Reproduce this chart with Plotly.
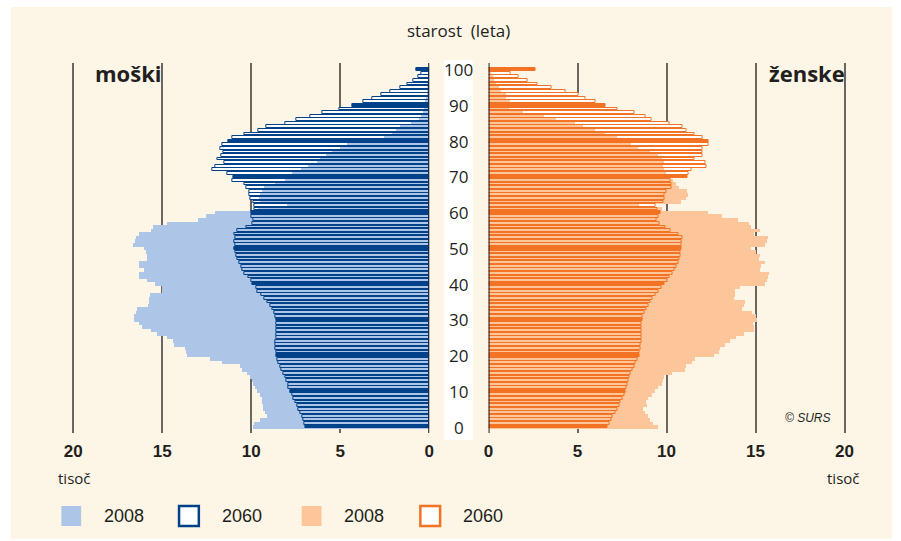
import plotly.graph_objects as go

# starost (leta) 0..100
starost = list(range(101))

# tisoč prebivalcev
moski_2008 = [
    9.9, 9.8, 9.5, 9.1, 9.2, 9.3, 9.3, 9.35, 9.4, 9.5,
    9.65, 9.75, 9.9, 9.95, 10.05, 10.2, 10.5, 10.6, 11.6, 12.3,
    13.6, 13.65, 13.7, 14.3, 14.4, 14.7, 15.3, 15.6, 16.1, 16.3,
    16.55, 16.55, 16.45, 16.4, 15.8, 15.75, 15.7, 15.65, 15.0, 15.0,
    15.4, 15.85, 16.3, 16.3, 16.0, 16.3, 16.3, 15.85, 15.85, 15.9,
    16.0, 16.6, 16.5, 16.45, 16.3, 15.6, 15.5, 14.7, 13.0, 12.5,
    12.0, 9.6, 8.0, 9.5, 9.55, 9.5, 9.4, 9.28, 8.63, 8.07,
    7.9, 7.7, 7.2, 6.8, 6.3, 6.1, 5.76, 5.43, 5.0, 4.6,
    3.1, 2.5, 2.1, 1.87, 1.6, 1.0, 0.56, 0.45, 0.33, 0.28,
    0.24, 0.2, 0.16, 0.13, 0.1, 0.08, 0.06, 0.04, 0.03, 0.02,
    0.02,
]
moski_2060 = [
    6.96, 7.04, 7.09, 7.15, 7.24, 7.33, 7.43, 7.52, 7.61, 7.7,
    7.8, 7.89, 7.94, 8.04, 8.11, 8.2, 8.3, 8.39, 8.48, 8.54,
    8.59, 8.61, 8.63, 8.63, 8.63, 8.61, 8.6, 8.57, 8.57, 8.57,
    8.59, 8.67, 8.72, 8.81, 8.94, 9.09, 9.28, 9.46, 9.63, 9.74,
    9.93, 10.02, 10.15, 10.37, 10.48, 10.57, 10.67, 10.76, 10.81, 10.89,
    10.93, 10.91, 10.93, 10.91, 10.96, 10.76, 10.28, 9.93, 9.9, 10.0,
    9.98, 9.8, 9.85, 9.89, 10.04, 10.13, 10.11, 10.26, 10.37, 11.04,
    10.98, 11.35, 12.17, 12.04, 11.5, 11.91, 11.7, 11.56, 11.76, 11.65,
    11.26, 11.04, 10.41, 9.59, 9.13, 8.09, 7.44, 6.7, 6.02, 5.07,
    4.3, 3.72, 3.19, 2.67, 2.19, 1.63, 1.22, 0.91, 0.63, 0.44,
    0.7,
]
zenske_2008 = [
    9.5, 9.2, 9.07, 8.93, 8.75, 8.65, 8.85, 8.83, 8.95, 9.15,
    9.3, 9.48, 9.7, 9.8, 9.85, 10.3, 11.0, 11.06, 11.4, 11.6,
    12.63, 12.9, 13.0, 13.28, 13.56, 13.9, 14.3, 14.9, 14.9, 14.85,
    15.04, 15.0, 14.8, 14.2, 14.3, 14.39, 13.74, 13.8, 13.83, 14.1,
    15.5, 15.6, 15.7, 15.75, 15.2, 15.3, 15.5, 15.15, 15.2, 15.0,
    14.7, 15.5, 15.6, 15.7, 14.9, 15.2, 14.7, 14.6, 14.0, 13.1,
    12.3, 9.7, 8.43, 10.8, 11.05, 11.2, 11.1, 10.7, 10.5, 10.35,
    10.1, 9.95, 9.85, 9.75, 9.85, 9.7, 9.48, 9.07, 8.37, 8.0,
    7.6, 7.17, 6.5, 5.93, 5.26, 4.85, 3.74, 3.1, 1.9, 1.15,
    1.3, 1.2, 0.95, 0.93, 0.7, 0.55, 0.42, 0.3, 0.2, 0.12,
    0.08,
]
zenske_2060 = [
    6.7, 6.8, 6.89, 6.98, 7.11, 7.22, 7.35, 7.44, 7.54, 7.63,
    7.72, 7.76, 7.81, 7.89, 7.94, 8.0, 8.09, 8.19, 8.28, 8.37,
    8.46, 8.5, 8.54, 8.56, 8.57, 8.57, 8.57, 8.59, 8.59, 8.61,
    8.65, 8.67, 8.74, 8.87, 8.98, 9.11, 9.24, 9.39, 9.57, 9.72,
    9.91, 10.04, 10.19, 10.31, 10.44, 10.56, 10.65, 10.72, 10.78, 10.81,
    10.85, 10.85, 10.83, 10.9, 10.7, 10.2, 9.97, 9.6, 9.45, 9.57,
    9.65, 9.5, 9.36, 9.83, 9.87, 9.9, 10.0, 10.27, 10.28, 10.25,
    11.19, 11.22, 11.43, 12.26, 12.17, 11.56, 12.0, 12.02, 12.05, 12.35,
    12.35, 12.02, 11.56, 11.11, 10.9, 10.19, 9.15, 8.83, 8.22, 7.26,
    6.56, 6.0, 5.44, 5.04, 4.3, 3.56, 2.76, 2.17, 1.67, 1.24,
    2.63,
]
tick_vals = [0, 5, 10, 15, 20]
starost_oznake = list(range(0, 101, 10))

W, H = 901, 541
krem = '#fdf5e6'
svetlo_modra = '#adc5e6'
temno_modra = '#00428a'
svetlo_oranzna = '#fcc59a'
oranzna = '#f47224'
mreza = '#6d6561'
besedilo = '#231f20'
ozka = 'Liberation Sans Narrow, Arial Narrow, sans-serif'


def px(x):
    return x / W


def py(y):
    return 1 - y / H


fig = go.Figure()


def dodaj_spol(v2008, v2060, svetla, temna, xos):
    # bela podlaga za 2060, nato 2008, nato obroba 2060
    fig.add_trace(go.Bar(
        y=starost, x=v2060, orientation='h', xaxis=xos, yaxis='y',
        width=0.78, marker=dict(color='white', line=dict(width=0)),
        hoverinfo='skip', showlegend=False
    ))
    fig.add_trace(go.Bar(
        y=starost, x=v2008, orientation='h', xaxis=xos, yaxis='y',
        width=1.0, marker=dict(color=svetla, line=dict(width=0)),
        hoverinfo='skip', showlegend=False
    ))
    barve = [temna if a % 10 == 0 else 'rgba(0,0,0,0)' for a in starost]
    fig.add_trace(go.Bar(
        y=starost, x=v2060, orientation='h', xaxis=xos, yaxis='y',
        width=0.78, marker=dict(color=barve, line=dict(color=temna, width=1)),
        hoverinfo='skip', showlegend=False
    ))


dodaj_spol(moski_2008, moski_2060, svetlo_modra, temno_modra, 'x')
dodaj_spol(zenske_2008, zenske_2060, svetlo_oranzna, oranzna, 'x2')

os_x = dict(
    tickvals=tick_vals, showgrid=True, gridcolor=mreza, gridwidth=1.5,
    zeroline=False, showline=False, ticks='outside', ticklen=3,
    tickcolor='rgba(0,0,0,0)', anchor='y', fixedrange=True,
    tickfont=dict(family=ozka, size=17, color=besedilo, weight='bold'),
)

shapes = [
    dict(type='rect', xref='paper', yref='paper', x0=px(6), x1=px(897),
         y0=py(539), y1=py(7), fillcolor=krem, line=dict(width=0), layer='below'),
    dict(type='rect', xref='paper', yref='paper', x0=px(444), x1=px(473),
         y0=py(440), y1=py(60), fillcolor='white', line=dict(width=0), layer='below'),
    dict(type='line', xref='x', yref='y domain', x0=0, x1=0, y0=0, y1=1,
         line=dict(color='#1d1d2b', width=2), layer='above'),
    dict(type='line', xref='x2', yref='y domain', x0=0, x1=0, y0=0, y1=1,
         line=dict(color='#1d1d2b', width=2), layer='above'),
]

annotations = []
for a in starost_oznake:
    annotations.append(dict(
        text=str(a), x=px(459), y=a, xref='paper', yref='y', showarrow=False,
        xanchor='center', yanchor='middle',
        font=dict(family='Open Sans, sans-serif', size=17, color=besedilo)))


def napis(text, x, y, size, anchor='center', **font):
    annotations.append(dict(
        text=text, x=px(x), y=py(y), xref='paper', yref='paper', showarrow=False,
        xanchor=anchor, yanchor='middle',
        font=dict(family=font.pop('family', 'Open Sans, sans-serif'),
                  size=size, color=besedilo, **font)))


napis('starost  (leta)', 459, 31, 17)
napis('moški', 125, 73, 22, weight='bold')
napis('ženske', 811, 73, 22, weight='bold')
napis('© SURS', 812, 418, 12, style='italic', family='Liberation Sans, sans-serif')
napis('tisoč', 70, 478, 15)
napis('tisoč', 848, 478, 15)

# legenda
legenda = [
    (57, svetlo_modra, None, '2008'),
    (176, 'white', temno_modra, '2060'),
    (300, svetlo_oranzna, None, '2008'),
    (420, 'white', oranzna, '2060'),
]
for x0, fill, obroba, txt in legenda:
    shapes.append(dict(
        type='rect', xref='paper', yref='paper', x0=px(x0), x1=px(x0 + 20),
        y0=py(526), y1=py(506), fillcolor=fill,
        line=dict(color=obroba or fill, width=2.5 if obroba else 0)))
    napis(txt, x0 + 41, 516, 18, anchor='left', family=ozka)

fig.update_layout(
    width=W, height=H,
    margin=dict(l=0, r=0, t=0, b=0),
    paper_bgcolor='white',
    plot_bgcolor='rgba(0,0,0,0)',
    barmode='overlay',
    bargap=0,
    showlegend=False,
    xaxis=dict(os_x, domain=[px(60), px(429)], range=[20.5, 0]),
    xaxis2=dict(os_x, domain=[px(489), px(858)], range=[0, 20.5]),
    yaxis=dict(domain=[py(433), py(63)], range=[-1.68, 101.88], anchor='x',
               showticklabels=False, showgrid=False, zeroline=False,
               showline=False, fixedrange=True),
    shapes=shapes,
    annotations=annotations,
    font=dict(family='Open Sans, sans-serif', color=besedilo),
)

fig.write_html("out.html",
               config={'displayModeBar': False},
               post_script="document.body.style.margin='0';"
                           "document.body.style.overflow='hidden';")
